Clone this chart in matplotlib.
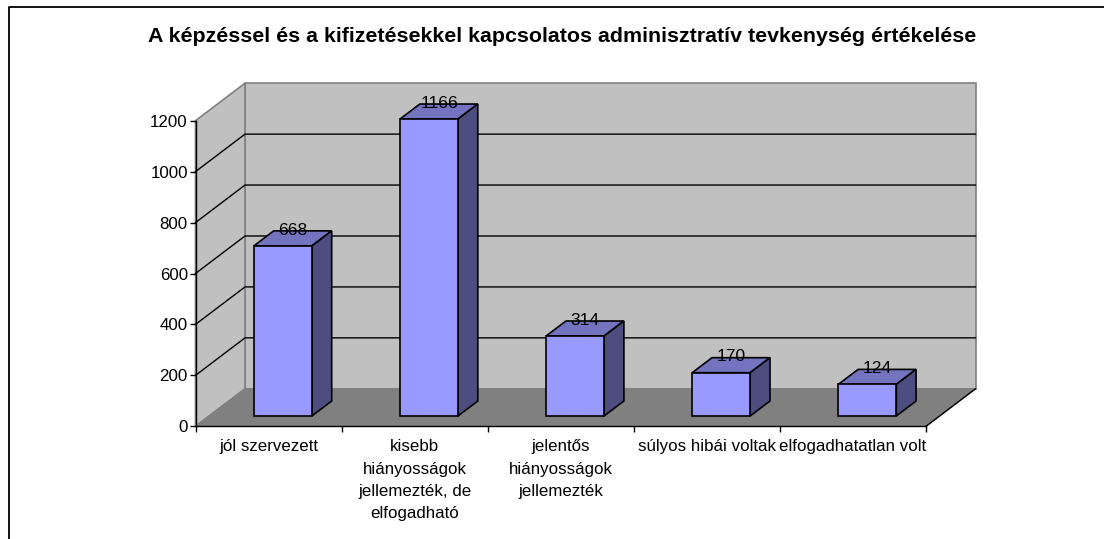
#3d style column chart, drawn by hand on a flat axes
import matplotlib
matplotlib.use('Agg')
import matplotlib.pyplot as plt
from matplotlib.lines import Line2D
from matplotlib.patches import Polygon

plt.rcParams['font.family'] = ['Liberation Sans', 'DejaVu Sans']

title = 'A képzéssel és a kifizetésekkel kapcsolatos adminisztratív tevkenység értékelése'
categories = ['jól szervezett', 'kisebb\nhiányosságok\njellemezték, de\nelfogadható',
              'jelentős\nhiányosságok\njellemezték', 'súlyos hibái voltak', 'elfogadhatatlan volt']
values = [668, 1166, 314, 170, 124]
yticks = [0, 200, 400, 600, 800, 1000, 1200]

W, H = 1104, 539
# depth of the box in data units
DX = 49.5 / 146.1
DY = 147.3
BAR_W = 0.397
BAR_SHIFT = 0.005
D0, D1 = 0.275, 0.675


def pr(x, y, d=0):
    return (x + DX * d, y + DY * d)


def poly(ax, pts, color, edge, lw=1.2, z=1):
    ax.add_patch(Polygon(pts, closed=True, facecolor=color, edgecolor=edge, linewidth=lw,
                         zorder=z, clip_on=False, joinstyle='miter'))


fig = plt.figure(figsize=(W / 100, H / 100), dpi=100)
ax = fig.add_axes([195.5 / W, 1 - 426.3 / H, 730.5 / W, 305.6 / H])
ax.patch.set_visible(False)
ax.set_xlim(0, len(values))
ax.set_ylim(0, 1200)

# walls and floor
n = len(values)
poly(ax, [pr(0, 0, 1), pr(n, 0, 1), pr(n, 1200, 1), pr(0, 1200, 1)], '#C0C0C0', '#808080', 1.2, 1)
poly(ax, [pr(0, 0), pr(0, 0, 1), pr(0, 1200, 1), pr(0, 1200)], '#C0C0C0', '#808080', 1.2, 1)
poly(ax, [pr(0, 0), pr(n, 0), pr(n, 0, 1), pr(0, 0, 1)], '#808080', '#808080', 1.0, 1)

# gridlines
for v in yticks[1:-1]:
    ax.plot(*zip(pr(0, v), pr(0, v, 1), pr(n, v, 1)), color='black', lw=1.0, zorder=2,
            clip_on=False, solid_joinstyle='miter')
# front edge of the floor on the right
ax.plot(*zip(pr(n, 0), pr(n, 0, 1)), color='black', lw=1.0, zorder=2, clip_on=False)

# bars
for i, v in enumerate(values):
    x0 = i + 0.5 - BAR_W / 2 + BAR_SHIFT
    x1 = x0 + BAR_W
    poly(ax, [pr(x0, v, D0), pr(x1, v, D0), pr(x1, v, D1), pr(x0, v, D1)], '#7373BF', 'black', 1.2, 3)
    poly(ax, [pr(x1, 0, D0), pr(x1, 0, D1), pr(x1, v, D1), pr(x1, v, D0)], '#4D4D80', 'black', 1.2, 3)
    poly(ax, [pr(x0, 0, D0), pr(x1, 0, D0), pr(x1, v, D0), pr(x0, v, D0)], '#9999FF', 'black', 1.2, 4)
    tx, ty = pr(i + 0.5, v, (D0 + D1) / 2)
    ax.annotate(str(v), (tx, ty), xytext=(0.8, 6.0), textcoords='offset points', ha='center',
                va='center', fontsize=12.6, color='black', zorder=5, annotation_clip=False)

# axes
for s in ['top', 'right']:
    ax.spines[s].set_visible(False)
for s in ['left', 'bottom']:
    ax.spines[s].set_linewidth(1.0)
    ax.spines[s].set_zorder(6)
ax.set_yticks(yticks)
ax.set_xticks(range(n + 1))
ax.set_xticklabels([])
ax.set_xticks([i + 0.5 for i in range(n)], minor=True)
ax.set_xticklabels(categories, minor=True, fontsize=12.2, linespacing=1.6)
ax.tick_params(axis='x', which='minor', length=0, pad=9.5)
ax.tick_params(axis='x', which='major', length=4, width=1)
ax.tick_params(axis='y', length=4, width=1, labelsize=12.2, pad=1.5)

fig.text(562 / W, 1 - 37 / H, title, ha='center', va='center', fontsize=15.4, fontweight='bold')

# chart area border, only top and left show
fig.add_artist(Line2D([9 / W, 9 / W, 1], [0, 1 - 7 / H, 1 - 7 / H], color='black', lw=1.3))

fig.savefig('out.png', dpi=100)
